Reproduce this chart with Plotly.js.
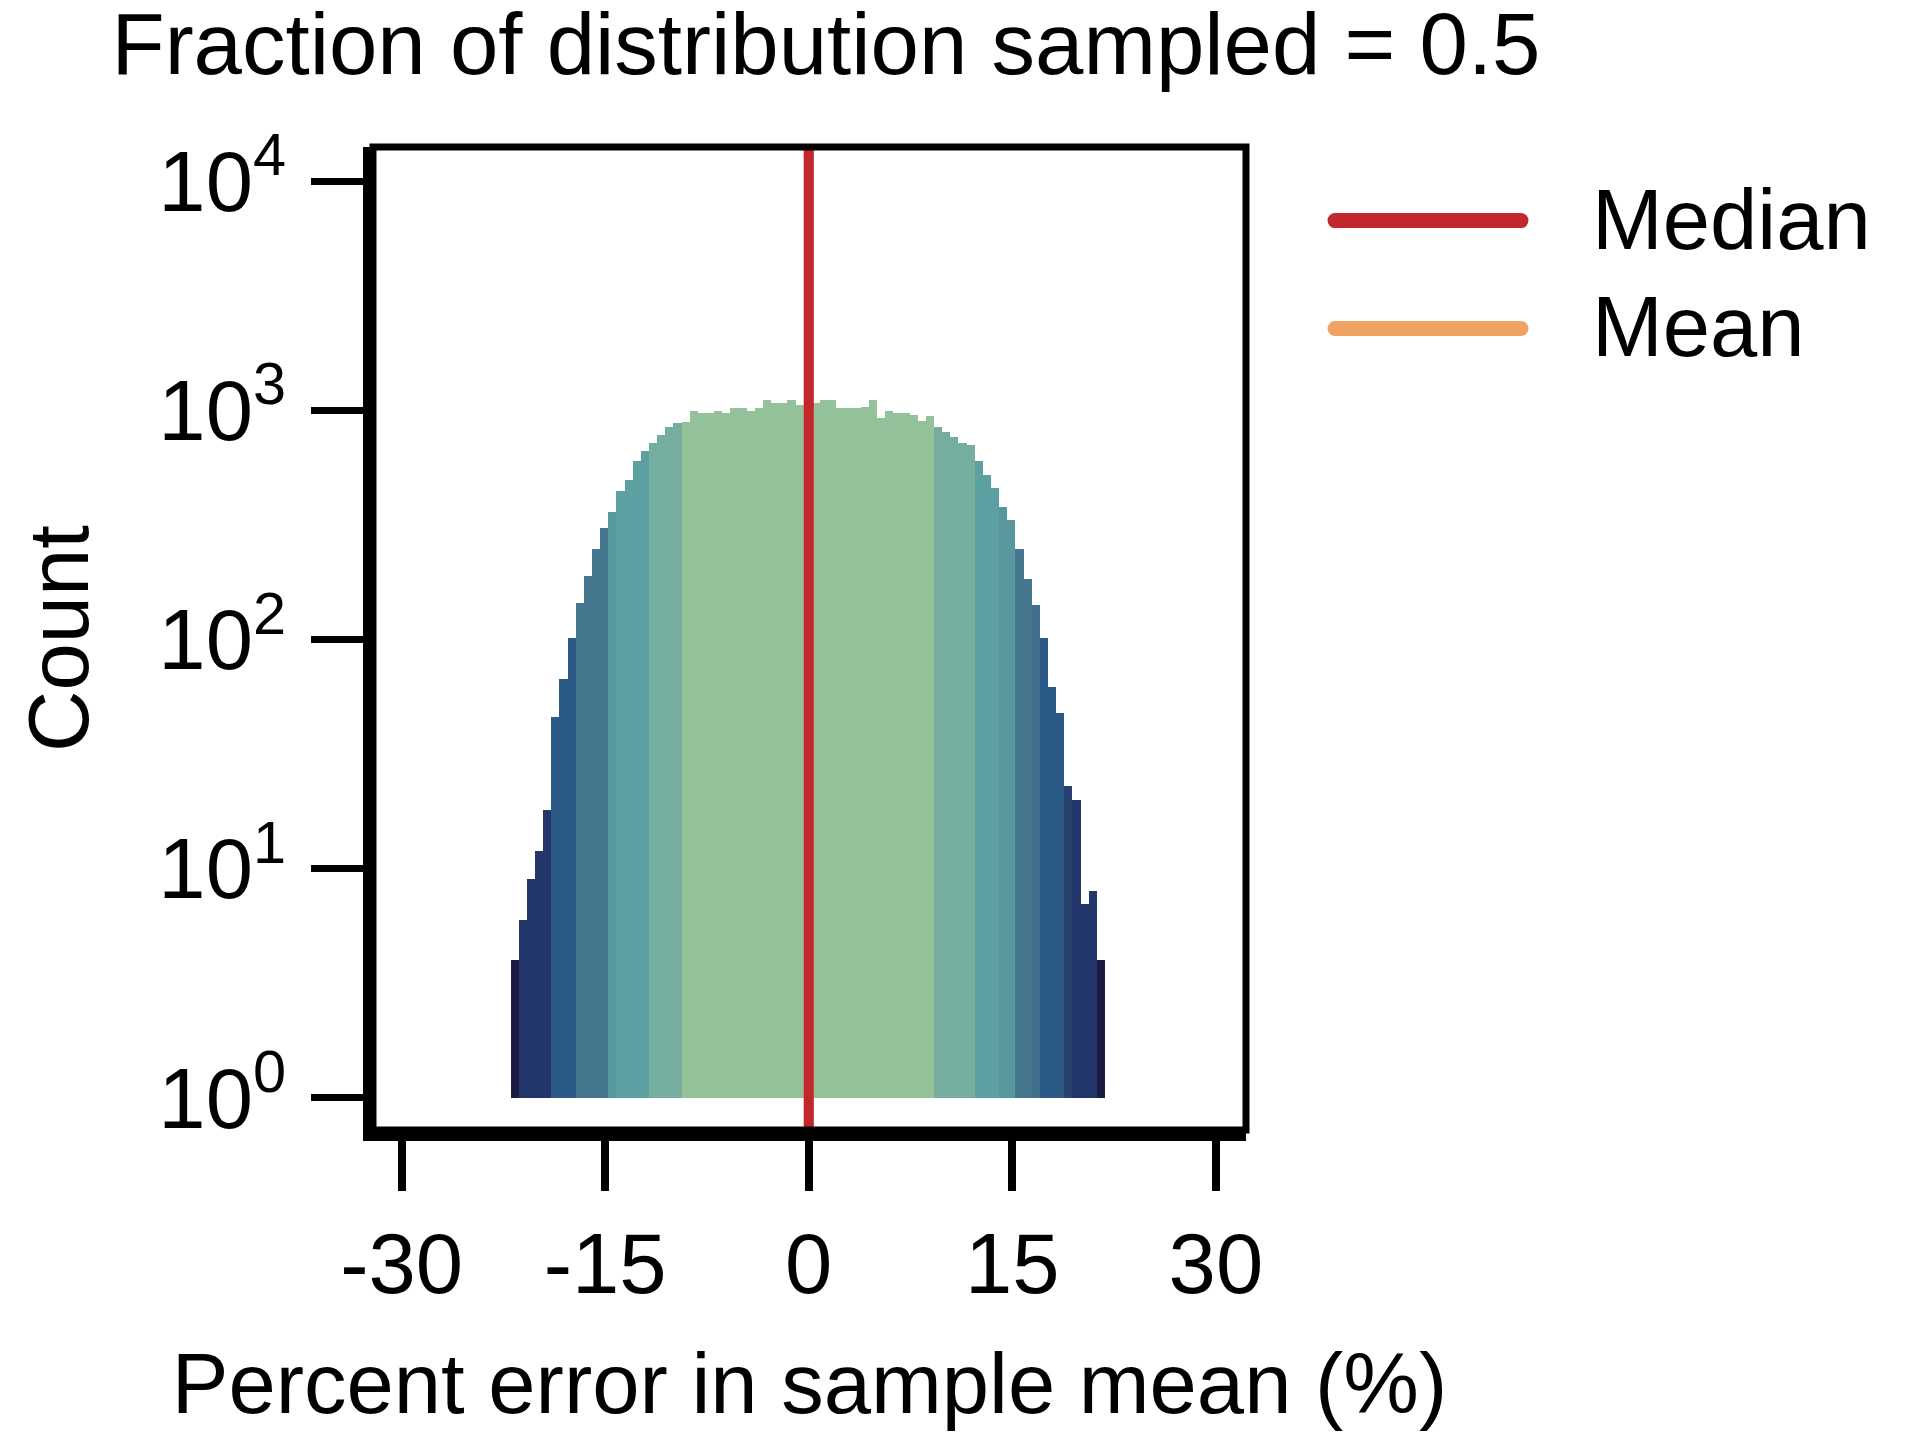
<!DOCTYPE html>
<html>
<head>
<meta charset="utf-8">
<script src="https://cdn.plot.ly/plotly-3.0.1.min.js"></script>
<style>html,body{margin:0;padding:0;background:#fff;}#chart{width:1922px;height:1441px;}</style>
</head>
<body>
<div id="chart"></div>
<script>
// ---- data ----
const titleText = "Fraction of distribution sampled = 0.5";
const xTitle = "Percent error in sample mean (%)";
const yTitle = "Count";
const binLeftEdge = -21.97;   // left edge of first histogram bin (%)
const binWidth = 0.6;         // histogram bin width (%)
const counts = [4, 6, 9, 12, 18, 46, 67, 102, 145, 190,
  248, 307, 360, 446, 497, 601, 667, 723, 781, 849,
  884, 893, 994, 977, 977, 994, 971, 1021, 1021, 994,
  1021, 1110, 1081, 1081, 1110, 1057, 1081, 1081, 1110, 1110,
  1021, 1021, 1021, 1035, 1110, 924, 994, 977, 977, 954,
  899, 945, 849, 807, 763, 723, 704, 601, 524, 460,
  380, 333, 248, 184, 141, 102, 62, 48, 23, 20,
  7, 8, 4];
// colour band of each bin (0 = centre, 9 = outermost tail)
const binBand = [9, 8, 8, 8, 8, 6, 6, 6, 4, 4,
  4, 4, 3, 2, 2, 2, 2, 1, 1, 1,
  1, 0, 0, 0, 0, 0, 0, 0, 0, 0,
  0, 0, 0, 0, 0, 0, 0, 0, 0, 0,
  0, 0, 0, 0, 0, 0, 0, 0, 0, 0,
  0, 0, 1, 1, 1, 1, 1, 2, 2, 2,
  3, 3, 4, 4, 5, 6, 6, 6, 7, 8,
  8, 8, 9];
const bandColors = ["#94c199", "#75ae9f", "#5ca0a1", "#57979d", "#45788f",
  "#3f6f8c", "#2c5a87", "#28416f", "#22366a", "#1c1c42"];
const medianValue = 0.0;
const meanValue = 0.0;
const legendNames = ["Median", "Mean"];
const legendColors = ["#c1272d", "#f0a262"];
const xTickVals = [-30, -15, 0, 15, 30];
const xTickText = ["-30", "-15", "0", "15", "30"];
const yTickVals = [1, 10, 100, 1000, 10000];
const yTickText = ["10<sup>0</sup>", "10<sup>1</sup>", "10<sup>2</sup>", "10<sup>3</sup>", "10<sup>4</sup>"];

// ---- build ----
const centers = counts.map((c, i) => binLeftEdge + binWidth * (i + 0.5));
const FONT = "Liberation Sans, Arial, Helvetica, sans-serif";

const bars = {
  type: "bar",
  x: centers,
  y: counts.map(c => c - 1),
  base: 1,
  width: binWidth,
  marker: { color: binBand.map(b => bandColors[b]), line: { width: 0 } },
  showlegend: false,
  hoverinfo: "skip"
};

// paper-coordinate helpers for the legend (plot area 373..1246 x 147..1130 px)
const L = 373, R = 1246, T = 147, B = 1130;
const px = v => (v - L) / (R - L);
const py = v => (B - v) / (B - T);

const LW = 15;
const legX0 = 1335, legX1 = 1521;
const legY = [220.6, 328.5];

const shapes = [
  { type: "line", xref: "x", yref: "paper", x0: meanValue, x1: meanValue, y0: 0, y1: 1,
    line: { color: legendColors[1], width: 10 } },
  { type: "line", xref: "x", yref: "paper", x0: medianValue, x1: medianValue, y0: 0, y1: 1,
    line: { color: legendColors[0], width: 10 } },
  { type: "rect", xref: "paper", yref: "paper", x0: 0, x1: 1, y0: 0, y1: 1,
    line: { color: "#000", width: 7 } }
];
legY.forEach((yy, i) => {
  shapes.push({ type: "line", xref: "paper", yref: "paper", x0: px(legX0), x1: px(legX1), y0: py(yy), y1: py(yy),
    line: { color: legendColors[i], width: LW } });
  [legX0, legX1].forEach(xx => {
    shapes.push({ type: "circle", xref: "paper", yref: "paper", xsizemode: "pixel", ysizemode: "pixel",
      xanchor: px(xx), yanchor: py(yy), x0: -LW / 2, x1: LW / 2, y0: -LW / 2, y1: LW / 2,
      fillcolor: legendColors[i], line: { width: 0 } });
  });
});

const annotations = [
  { text: legendNames[0], xref: "paper", yref: "paper", x: px(1590), y: py(219.5),
    xanchor: "left", yanchor: "middle", showarrow: false, font: { family: FONT, size: 85, color: "#000" } },
  { text: legendNames[1], xref: "paper", yref: "paper", x: px(1590), y: py(326.5),
    xanchor: "left", yanchor: "middle", showarrow: false, font: { family: FONT, size: 85, color: "#000" } }
];

const layout = {
  width: 1922, height: 1441, autosize: false,
  paper_bgcolor: "#fff", plot_bgcolor: "#fff",
  margin: { l: L, r: 1922 - R, t: T, b: 1441 - B, pad: 0 },
  font: { family: FONT, color: "#000" },
  bargap: 0,
  title: { text: titleText, font: { family: FONT, size: 87, color: "#000" },
    xref: "container", yref: "container", x: 826 / 1922, xanchor: "center", y: 1 - 44 / 1441, yanchor: "middle" },
  xaxis: {
    range: [-32.11, 32.22], tickmode: "array", tickvals: xTickVals, ticktext: xTickText,
    ticks: "outside", ticklen: 50, tickwidth: 8, tickcolor: "#000",
    showline: true, linewidth: 11, linecolor: "#000", mirror: false,
    showgrid: false, zeroline: false,
    tickfont: { family: FONT, size: 85, color: "#000" },
    title: { text: xTitle, font: { family: FONT, size: 85, color: "#000" }, standoff: 48 },
    automargin: false
  },
  yaxis: {
    type: "log", range: [-0.140, 4.149], tickmode: "array", tickvals: yTickVals, ticktext: yTickText,
    ticks: "outside", ticklen: 52, tickwidth: 7, tickcolor: "#000",
    showline: true, linewidth: 10, linecolor: "#000", mirror: false,
    showgrid: false, zeroline: false, ticklabelstandoff: 8,
    tickfont: { family: FONT, size: 85, color: "#000" },
    title: { text: yTitle, font: { family: FONT, size: 85, color: "#000" }, standoff: 46 },
    automargin: false
  },
  shapes: shapes,
  annotations: annotations,
  showlegend: false
};

Plotly.newPlot("chart", [bars], layout, { staticPlot: true, displayModeBar: false });
</script>
</body>
</html>
